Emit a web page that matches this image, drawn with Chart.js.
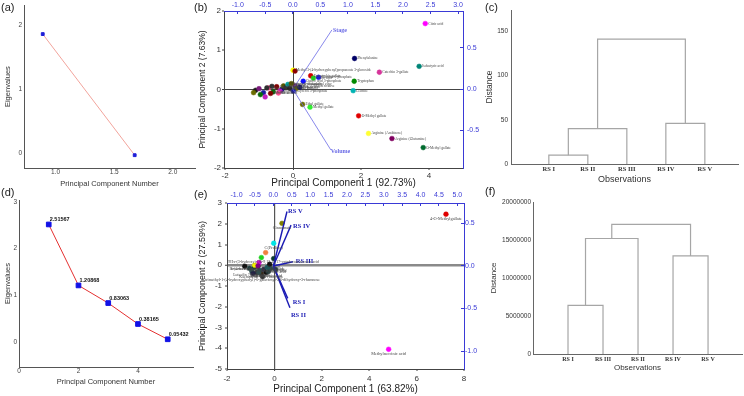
<!DOCTYPE html>
<html lang="en">
  <head>
    <meta charset="UTF-8" />
    <title>Scree plots, PCA biplots and dendrograms</title>
    <style>
      * {
        margin: 0;
        padding: 0;
        box-sizing: border-box;
      }
      body {
        width: 744px;
        height: 396px;
        position: relative;
        overflow: hidden;
        background: #fff;
        font-family: "Liberation Sans", Arial, sans-serif;
      }
      canvas {
        position: absolute;
      }
      .tag {
        position: absolute;
        font-size: 11px;
        line-height: 13px;
        color: #222;
      }
    </style>
  </head>
  <body>
    <canvas id="chartA" width="240" height="196" style="left: 0; top: 0"></canvas>
    <canvas id="chartD" width="240" height="202" style="left: 0; top: 194px"></canvas>
    <canvas id="chartB" width="290" height="196" style="left: 192px; top: 0"></canvas>
    <canvas id="chartE" width="290" height="210" style="left: 192px; top: 186px"></canvas>
    <canvas id="chartC" width="262" height="196" style="left: 482px; top: 0"></canvas>
    <canvas id="chartF" width="262" height="200" style="left: 482px; top: 196px"></canvas>

    <div class="tag" style="left: 1px; top: 1px">(a)</div>
    <div class="tag" style="left: 194px; top: 1px">(b)</div>
    <div class="tag" style="left: 485px; top: 1px">(c)</div>
    <div class="tag" style="left: 1px; top: 186px">(d)</div>
    <div class="tag" style="left: 194px; top: 188px">(e)</div>
    <div class="tag" style="left: 485px; top: 185px">(f)</div>

    <script src="https://cdn.jsdelivr.net/npm/chart.js"></script>

    <script>
      // ---- (a) scree plot, first set ----
      const aComponent = [0.89, 1.675];
      const aEigen = [1.86, -0.03];
      const aTicksX = [1.0, 1.5, 2.0];
      const aTicksY = [0, 1, 2];

      // ---- (d) scree plot, second set ----
      const dComponent = [1, 2, 3, 4, 5];
      const dEigen = [2.51567, 1.20868, 0.83063, 0.38165, 0.05432];
      const dTicksX = [0, 2, 4];
      const dTicksY = [0, 1, 2, 3];

      // ---- (b) biplot: labelled scores ----
      const bNamedPC1 = [3.89, 1.81, 3.71, 0.0, 0.06, 2.54, 0.52, 0.6, 0.75, 1.8, 0.3, 1.77, 0.28, 0.5, 1.93, 2.22, 2.91, 3.83];
      const bNamedPC2 = [1.68, 0.79, 0.59, 0.49, 0.47, 0.44, 0.35, 0.29, 0.31, 0.21, 0.21, -0.03, -0.38, -0.45, -0.67, -1.12, -1.25, -1.48];
      const bNamedNames = [
        "Citric acid", "Phenylalanine", "Isobutyric acid",
        "Methyl 3-(4-hydroxyphenyl)propanoate 3-glucoside", "", "Catechin 3-gallate",
        "Epicatechin gallate", "Gallic acid", "Glucose-6-phosphate", "Tryptophan",
        "Quinic acid 3-phosphate", "Leucine", "Ethyl gallate", "Methyl gallate",
        "O-Methyl gallate", "Arginine (Arabinose)", "Arginine (Glutamine)", "O-Methyl gallate",
      ];
      // ---- (b) biplot: scores packed round the origin ----
      const bMassPC1 = [-1.1, -1.0, -1.16, -0.87, -0.82, -0.96, -0.72, -0.62, -0.48, -0.33, -0.28, -0.21, -0.15, -0.09, 0.06, 0.11, 0.01, -0.38, -0.58, -0.43, -0.77, -0.66, 0.2, -0.05];
      const bMassPC2 = [-0.02, 0.02, -0.08, -0.08, -0.19, -0.13, 0.04, 0.08, 0.07, 0.0, 0.09, 0.05, 0.13, 0.03, 0.09, 0.03, -0.04, -0.04, -0.06, -0.09, 0.04, -0.1, 0.06, 0.15];
      const bMassNames = [
        "", "", "", "", "", "", "Malic acid", "", "Succinic acid", "Alanine", "Fumaric acid",
        "Sucrose", "Fructose-6-phosphate", "Shikimic acid", "Proline, 2TMS derivative",
        "myo-Inositol", "Glycerol 3-phosphate", "Valine", "Serine", "Lactic acid", "",
        "Palmitic acid", "Ferulic acid", "Linoleic acid methyl ester",
      ];
      // ---- (b) loadings ----
      const bVars = ["Stage", "Volume"];
      const bLoad1 = [0.71, 0.69];
      const bLoad2 = [0.72, -0.74];
      const bTicksX = [-2, 0, 2, 4];
      const bTicksY = [-2, -1, 0, 1, 2];
      const bTicksTop = [-1, -0.5, 0, 0.5, 1, 1.5, 2, 2.5, 3];
      const bTicksRight = [-0.5, 0, 0.5];

      // ---- (e) biplot: outlying scores ----
      const eOutPC1 = [7.24, 4.82, 0.32, -0.03, -0.37, -0.55, -0.65, -0.83, -0.69];
      const eOutPC2 = [2.46, -4.05, 2.02, 1.06, 0.61, 0.37, 0.13, 0.0, -0.03];
      const eOutNames = ["4-O-Methylgallate", "Methylsuccinic acid", "Cinnamate", "C(Proline)", "", "", "", "", ""];
      // ---- (e) biplot: scores packed round the origin ----
      const eMassPC1 = [-1.25, -1.05, -0.95, -0.85, -0.75, -0.62, -0.55, -0.45, -0.35, -0.25, -0.15, -0.03, -0.5, -0.3, -0.7, -0.9, -0.2, 0.05, -0.66];
      const eMassPC2 = [-0.05, -0.15, -0.3, -0.1, -0.35, -0.25, -0.4, -0.2, -0.35, -0.3, -0.15, 0.32, -0.55, -0.1, -0.05, -0.4, 0.05, -0.2, -0.35];
      const eMassNames = [
        "Hexadecanoic acid", "", "Luteolin 7-O-glucoside", "", "Apigenin", "",
        "Kaempferol-3-O-rutinoside", "", "Caffeoylquinic acid", "", "Protocatechuic acid",
        "9Hx-(3-hydroxy)-Dh-9,12,15,17-octadecatetraenoic acid",
        "trimethyl-1-(4-hydroxyphenyl)-6-galactosyl-2,6-dihydroxy-3-rhamnose",
        "Quercetin 3-glucoside", "n-(4-methyl-3-hexenyl) glucoside", "", "Vanillic acid",
        "Syringic acid", "",
      ];
      // ---- (e) loadings ----
      const eVars = ["RS I", "RS II", "RS III", "RS IV", "RS V"];
      const eLoad1 = [0.39, 0.45, 0.53, 0.48, 0.37];
      const eLoad2 = [-0.38, -0.49, 0.05, 0.48, 0.64];
      const eTicksX = [-2, 0, 2, 4, 6, 8];
      const eTicksY = [-5, -4, -3, -2, -1, 0, 1, 2, 3];
      const eTicksTop = [-1, -0.5, 0, 0.5, 1, 1.5, 2, 2.5, 3, 3.5, 4, 4.5, 5];
      const eTicksRight = [-1, -0.5, 0, 0.5];

      // ---- (c) dendrogram: leaves, then merges [node, node, distance] ----
      const cLeaves = ["RS I", "RS II", "RS III", "RS IV", "RS V"];
      const cMerges = [[0, 1, 10], [5, 2, 40], [3, 4, 46], [6, 7, 141]];
      const cTicksY = [0, 50, 100, 150];

      // ---- (f) dendrogram ----
      const fLeaves = ["RS I", "RS III", "RS II", "RS IV", "RS V"];
      const fMerges = [[0, 1, 6400000], [5, 2, 15200000], [3, 4, 12900000], [6, 7, 17050000]];
      const fTicksY = [0, 5000000, 10000000, 15000000, 20000000];

      // ---------------------------------------------------------------
      const SANS = '"Liberation Sans", Arial, sans-serif';
      const SERIF = '"Liberation Serif", "Times New Roman", serif';
      const BLUE = "#3a3ad6";
      Chart.defaults.font.family = SANS;

      const fixedTicks = (list) => (scale) => {
        scale.ticks = list.map((v) => ({ value: v }));
      };
      const boxWidth = (w) => (scale) => {
        scale.width = w;
      };
      const boxHeight = (h) => (scale) => {
        scale.height = h;
      };
      const zeroLine = (color, width) => ({
        color: (c) => (c.tick && c.tick.value === 0 ? color : "rgba(0,0,0,0)"),
        lineWidth: (c) => (c.tick && c.tick.value === 0 ? width : 0),
      });
      // no grid, no tick marks (drawTicks must be off too, or labels keep the tick gap)
      const noGrid = { display: false, drawTicks: false, tickLength: 0 };

      function baseOptions(padding) {
        return {
          responsive: false,
          animation: false,
          devicePixelRatio: 1,
          layout: { padding },
          plugins: { legend: { display: false }, tooltip: { enabled: false } },
        };
      }

      // small text next to points / vector tips
      const nameTags = {
        id: "nameTags",
        afterDatasetsDraw(chart) {
          const ctx = chart.ctx;
          chart.data.datasets.forEach((ds, i) => {
            if (!ds.names) return;
            const pts = chart.getDatasetMeta(i).data;
            ctx.save();
            ctx.font = ds.nameFont;
            ctx.fillStyle = ds.nameColor;
            ctx.textAlign = ds.nameAlign || "left";
            ctx.textBaseline = "middle";
            pts.forEach((p, j) => {
              if (ds.names[j]) {
                ctx.fillText(ds.names[j], p.x + (ds.nameDx || 0), p.y + (ds.nameDy || 0));
              }
            });
            ctx.restore();
          });
        },
      };

      function scoreSet(xs, ys, names, colors, extra) {
        return Object.assign(
          {
            data: xs.map((x, i) => ({ x, y: ys[i] })),
            pointRadius: 2.4,
            pointBackgroundColor: colors,
            pointBorderColor: colors,
            pointBorderWidth: 0.5,
            names,
          },
          extra
        );
      }

      function vectorSets(xs, ys, names, color, width, font, shifts) {
        return xs.map((x, i) => ({
          data: [{ x: 0, y: 0 }, { x, y: ys[i] }],
          xAxisID: "x2",
          yAxisID: "y2",
          showLine: true,
          borderColor: color,
          borderWidth: width,
          pointRadius: 0,
          names: ["", names[i]],
          nameFont: font,
          nameColor: color,
          nameDx: shifts[i][0],
          nameDy: shifts[i][1],
        }));
      }

      function dendroSets(leaves, merges, color) {
        const nodes = leaves.map((_, i) => ({ x: i + 1, h: 0 }));
        return merges.map(([a, b, d]) => {
          const l = nodes[a];
          const r = nodes[b];
          nodes.push({ x: (l.x + r.x) / 2, h: d });
          return {
            data: [
              { x: l.x, y: l.h },
              { x: l.x, y: d },
              { x: r.x, y: d },
              { x: r.x, y: r.h },
            ],
            showLine: true,
            borderColor: color,
            borderWidth: 1.2,
            pointRadius: 0,
          };
        });
      }

      const palette = ["#1a1a1a", "#7a1a7a", "#6b6b00", "#1a1aa0", "#c020c0", "#0a6a0a", "#ff4f8f", "#303030", "#800000", "#000080", "#555500", "#2a2a2a", "#00a0a0"];
      const darkPalette = ["#111111", "#1f3d3d", "#2f4f4f", "#0b3b2e", "#333333", "#006666", "#3b2b1b", "#222244"];

      // ---------------- (a) ----------------
      new Chart(document.getElementById("chartA"), {
        type: "scatter",
        data: {
          datasets: [
            {
              data: aComponent.map((x, i) => ({ x, y: aEigen[i] })),
              showLine: true,
              borderColor: "#f2a49c",
              borderWidth: 1,
              pointStyle: "rect",
              pointRadius: 2,
              pointBackgroundColor: "#1f1fd8",
              pointBorderColor: "#1f1fd8",
            },
          ],
        },
        options: {
          ...baseOptions({ top: 5, right: 45, left: 0, bottom: 0 }),
          scales: {
            x: {
              type: "linear",
              min: 0.73,
              max: 2.19,
              afterBuildTicks: fixedTicks(aTicksX),
              afterFit: boxHeight(28),
              ticks: { padding: 1, autoSkip: false, maxRotation: 0, color: "#444", font: { size: 6.5, lineHeight: 1 }, callback: (v) => v.toFixed(1) },
              grid: noGrid,
              border: { color: "#555" },
              title: { display: true, text: "Principal Component Number", color: "#333", font: { size: 7.5 }, padding: { top: 0, bottom: 8 } },
            },
            y: {
              type: "linear",
              min: -0.23,
              max: 2.31,
              afterBuildTicks: fixedTicks(aTicksY),
              afterFit: boxWidth(24),
              ticks: { padding: 2, color: "#444", font: { size: 6.5, lineHeight: 1 } },
              grid: noGrid,
              border: { color: "#555" },
              title: { display: true, text: "Eigenvalues", color: "#333", font: { size: 7.5 }, padding: { top: 3.5, bottom: 0 } },
            },
          },
        },
      });

      // ---------------- (d) ----------------
      new Chart(document.getElementById("chartD"), {
        type: "scatter",
        data: {
          datasets: [
            {
              data: dComponent.map((x, i) => ({ x, y: dEigen[i] })),
              showLine: true,
              borderColor: "#e43030",
              borderWidth: 1,
              pointStyle: "rect",
              pointRadius: 3.3,
              pointBackgroundColor: "#1212e6",
              pointBorderColor: "#1212e6",
              names: dEigen.map((v) => v.toFixed(5)),
              nameFont: "bold 5.5px " + SANS,
              nameColor: "#111",
              nameDx: 1,
              nameDy: -5,
            },
          ],
        },
        options: {
          ...baseOptions({ top: 6, right: 47, left: 0, bottom: 0 }),
          scales: {
            x: {
              type: "linear",
              min: 0,
              max: 5.85,
              afterBuildTicks: fixedTicks(dTicksX),
              afterFit: boxHeight(29),
              ticks: { padding: 1, autoSkip: false, maxRotation: 0, color: "#444", font: { size: 6.5, lineHeight: 1 } },
              grid: noGrid,
              border: { color: "#555" },
              title: { display: true, text: "Principal Component Number", color: "#333", font: { size: 7.5 }, padding: { top: 0, bottom: 9.5 } },
            },
            y: {
              type: "linear",
              min: -0.54,
              max: 3.04,
              afterBuildTicks: fixedTicks(dTicksY),
              afterFit: boxWidth(19),
              ticks: { padding: 2, color: "#444", font: { size: 6.5, lineHeight: 1 } },
              grid: noGrid,
              border: { color: "#555" },
              title: { display: true, text: "Eigenvalues", color: "#333", font: { size: 7.5 }, padding: { top: 3.5, bottom: 0 } },
            },
          },
        },
        plugins: [nameTags],
      });

      // ---------------- (b) ----------------
      new Chart(document.getElementById("chartB"), {
        type: "scatter",
        data: {
          datasets: [
            ...vectorSets(bLoad1, bLoad2, bVars, "#6a6ae6", 0.8, "bold 6px " + SERIF, [[1, 1], [0, 2]]),
            scoreSet(bNamedPC1, bNamedPC2, bNamedNames, ["#ff00ff", "#000066", "#008577", "#ffff00", "#8b0000", "#d6359a", "#d00000", "#22cc22", "#1010ff", "#008a00", "#1010ff", "#00b3b3", "#6b6b00", "#33ee33", "#e00000", "#ffff33", "#800060", "#006b2e"], {
              nameFont: "3.6px " + SERIF,
              nameColor: "#444",
              nameDx: 3,
            }),
            scoreSet(bMassPC1, bMassPC2, bMassNames, bMassPC1.map((_, i) => palette[i % palette.length]), {
              nameFont: "3.6px " + SERIF,
              nameColor: "#444",
              nameDx: 3,
            }),
          ],
        },
        options: {
          ...baseOptions(0),
          scales: {
            x: {
              type: "linear",
              position: "bottom",
              min: -2.03,
              max: 5.0,
              afterBuildTicks: fixedTicks(bTicksX),
              afterFit: boxHeight(28),
              ticks: { padding: 2, autoSkip: false, maxRotation: 0, color: "#333", font: { size: 8, lineHeight: 1 } },
              grid: { ...zeroLine("#444", 1), tickColor: "#444", tickWidth: 1, tickLength: 2 },
              border: { color: "#444" },
              title: { display: true, text: "Principal Component 1 (92.73%)", color: "#222", font: { size: 10 }, padding: { top: 0, bottom: 7 } },
            },
            y: {
              type: "linear",
              position: "left",
              min: -2,
              max: 2,
              afterBuildTicks: fixedTicks(bTicksY),
              afterFit: boxWidth(32),
              ticks: { padding: 1, color: "#333", font: { size: 8, lineHeight: 1 } },
              grid: { ...zeroLine("#444", 1), tickColor: "#444", tickWidth: 1, tickLength: 2 },
              border: { color: "#444" },
              title: { display: true, text: "Principal Component 2 (7.63%)", color: "#222", font: { size: 8.5 }, padding: { top: 5.8, bottom: 0 } },
            },
            x2: {
              type: "linear",
              position: "top",
              min: -1.25,
              max: 3.09,
              afterBuildTicks: fixedTicks(bTicksTop),
              afterFit: boxHeight(11),
              ticks: { padding: 5, autoSkip: false, maxRotation: 0, color: BLUE, font: { size: 7, lineHeight: 1 }, callback: (v) => v.toFixed(1) },
              grid: { drawOnChartArea: false, tickColor: BLUE, tickWidth: 1, tickLength: -3 },
              border: { color: BLUE },
            },
            y2: {
              type: "linear",
              position: "right",
              min: -0.96,
              max: 0.95,
              afterBuildTicks: fixedTicks(bTicksRight),
              afterFit: boxWidth(19),
              ticks: { padding: 7, color: BLUE, font: { size: 7, lineHeight: 1 }, callback: (v) => v.toFixed(1) },
              grid: { drawOnChartArea: false, tickColor: BLUE, tickWidth: 1, tickLength: -3 },
              border: { color: BLUE },
            },
          },
        },
        plugins: [nameTags],
      });

      // ---------------- (e) ----------------
      new Chart(document.getElementById("chartE"), {
        type: "scatter",
        data: {
          datasets: [
            ...vectorSets(eLoad1, eLoad2, eVars, "#1a1ab4", 1.4, "bold 6.5px " + SERIF, [[5, 4], [1, 8], [3, 0], [2, 1], [1, 0]]),
            scoreSet(eOutPC1, eOutPC2, eOutNames, ["#e00000", "#ff00ff", "#808000", "#00e5e5", "#f08040", "#20d020", "#e000e0", "#f0f000", "#800080"], {
              nameFont: "4.3px " + SERIF,
              nameColor: "#444",
              nameAlign: "center",
              nameDy: 5,
            }),
            scoreSet(eMassPC1, eMassPC2, eMassNames, eMassPC1.map((_, i) => darkPalette[i % darkPalette.length]), {
              nameFont: "4px " + SERIF,
              nameColor: "#444",
              nameAlign: "center",
              nameDy: 3,
            }),
          ],
        },
        options: {
          ...baseOptions(0),
          scales: {
            x: {
              type: "linear",
              position: "bottom",
              min: -2,
              max: 8,
              afterBuildTicks: fixedTicks(eTicksX),
              afterFit: boxHeight(27),
              ticks: { padding: 4, autoSkip: false, maxRotation: 0, color: "#333", font: { size: 8, lineHeight: 1 } },
              grid: { ...zeroLine("#555", 1.2), tickColor: "#444", tickWidth: 1, tickLength: 2 },
              border: { color: "#444" },
              title: { display: true, text: "Principal Component 1 (63.82%)", color: "#222", font: { size: 10 }, padding: { top: 0, bottom: 1 } },
            },
            y: {
              type: "linear",
              position: "left",
              min: -5,
              max: 3,
              afterBuildTicks: fixedTicks(eTicksY),
              afterFit: boxWidth(35),
              ticks: { padding: 3, color: "#333", font: { size: 8, lineHeight: 1 } },
              grid: { ...zeroLine("#8a8a8a", 2.5), tickColor: "#444", tickWidth: 1, tickLength: 2 },
              border: { color: "#444" },
              title: { display: true, text: "Principal Component 2 (27.59%)", color: "#222", font: { size: 9 }, padding: { top: 5.6, bottom: 0 } },
            },
            x2: {
              type: "linear",
              position: "top",
              min: -1.26,
              max: 5.18,
              afterBuildTicks: fixedTicks(eTicksTop),
              afterFit: boxHeight(17),
              ticks: { padding: 7, autoSkip: false, maxRotation: 0, color: BLUE, font: { size: 7, lineHeight: 1 }, callback: (v) => v.toFixed(1) },
              grid: { drawOnChartArea: false, tickColor: BLUE, tickWidth: 1, tickLength: -3 },
              border: { color: BLUE },
            },
            y2: {
              type: "linear",
              position: "right",
              min: -1.21,
              max: 0.74,
              afterBuildTicks: fixedTicks(eTicksRight),
              afterFit: boxWidth(18),
              ticks: { padding: 4, color: BLUE, font: { size: 7, lineHeight: 1 }, callback: (v) => v.toFixed(1) },
              grid: { drawOnChartArea: false, tickColor: BLUE, tickWidth: 1, tickLength: -3 },
              border: { color: BLUE },
            },
          },
        },
        plugins: [nameTags],
      });

      // ---------------- (c) ----------------
      new Chart(document.getElementById("chartC"), {
        type: "scatter",
        data: { datasets: dendroSets(cLeaves, cMerges, "#a6a6a6") },
        options: {
          ...baseOptions({ top: 10, right: 6, left: 0, bottom: 0 }),
          scales: {
            x: {
              type: "linear",
              min: 0.03,
              max: 5.85,
              afterBuildTicks: fixedTicks([1, 2, 3, 4, 5]),
              afterFit: boxHeight(32),
              ticks: { padding: 2, autoSkip: false, maxRotation: 0, color: "#333", font: { size: 6.5, weight: "bold", family: SERIF, lineHeight: 1 }, callback: (v, i) => cLeaves[i] },
              grid: noGrid,
              border: { color: "#666" },
              title: { display: true, text: "Observations", color: "#333", font: { size: 9 }, padding: { top: 0, bottom: 11.5 } },
            },
            y: {
              type: "linear",
              min: 0,
              max: 174,
              afterBuildTicks: fixedTicks(cTicksY),
              afterFit: boxWidth(29),
              ticks: { padding: 3, color: "#333", font: { size: 6.5, lineHeight: 1 } },
              grid: noGrid,
              border: { color: "#666" },
              title: { display: true, text: "Distance", color: "#333", font: { size: 8.5 }, padding: { top: 2.8, bottom: 0 } },
            },
          },
        },
      });

      // ---------------- (f) ----------------
      new Chart(document.getElementById("chartF"), {
        type: "scatter",
        data: { datasets: dendroSets(fLeaves, fMerges, "#a6a6a6") },
        options: {
          ...baseOptions({ top: 6, right: 2, left: 0, bottom: 0 }),
          scales: {
            x: {
              type: "linear",
              min: 0,
              max: 5.97,
              afterBuildTicks: fixedTicks([1, 2, 3, 4, 5]),
              afterFit: boxHeight(42),
              ticks: { padding: 2, autoSkip: false, maxRotation: 0, color: "#333", font: { size: 6, weight: "bold", family: SERIF, lineHeight: 1 }, callback: (v, i) => fLeaves[i] },
              grid: noGrid,
              border: { color: "#666" },
              title: { display: true, text: "Observations", color: "#333", font: { size: 8 }, padding: { top: 0, bottom: 23 } },
            },
            y: {
              type: "linear",
              min: 0,
              max: 20000000,
              afterBuildTicks: fixedTicks(fTicksY),
              afterFit: boxWidth(51),
              ticks: { padding: 2, color: "#333", font: { size: 6.5, lineHeight: 1 }, callback: (v) => String(v) },
              grid: noGrid,
              border: { color: "#666" },
              title: { display: true, text: "Distance", color: "#333", font: { size: 8 }, padding: { top: 7.2, bottom: 0 } },
            },
          },
        },
      });
    </script>
  </body>
</html>
